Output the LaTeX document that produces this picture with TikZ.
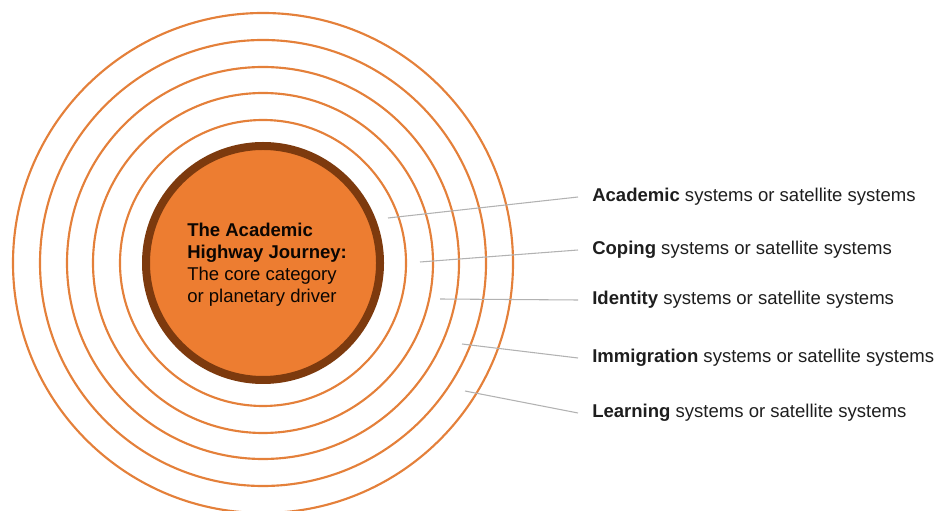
\documentclass[tikz,border=0pt]{standalone}
\usepackage{fontspec}
\setmainfont{Liberation Sans}
\usetikzlibrary{positioning}

\definecolor{ringorange}{RGB}{228,128,58}
\definecolor{coreorange}{RGB}{237,125,49}
\definecolor{corebrown}{RGB}{125,58,14}
\definecolor{leadgray}{RGB}{178,178,178}
\definecolor{labelink}{RGB}{30,30,30}

\begin{document}
\begin{tikzpicture}[x=0.75pt,y=0.75pt,
                    ring/.style={draw=ringorange,line width=1.6pt},
                    lead/.style={draw=leadgray,line width=0.8pt},
                    every node/.style={font=\fontsize{13.9}{16.5}\selectfont},
                    sysname/.style={anchor=west,inner xsep=10.5pt,text=labelink}]

  \useasboundingbox (0,0) rectangle (937,510);
  \coordinate (O) at (263,247);

  \foreach \r in {143,170,196,223,250}
    \draw[ring] (O) circle (\r);

  \node[shape=circle,fill=coreorange,draw=corebrown,line width=6pt,
        minimum size=175.5pt,inner sep=0pt] (core) at (O) {};
  \node[anchor=west,align=left,inner xsep=0pt,text=black!90!corebrown] (title) at (187,245)
        {\textbf{The Academic}\\\textbf{Highway Journey:}\\The core category\\or planetary driver};

  \node[sysname] (academic) at (578,313) {\textbf{Academic} systems or satellite systems};
  \node[sysname] (coping) at (578,260) {\textbf{Coping} systems or satellite systems};
  \node[sysname] (identity) at (578,210) {\textbf{Identity} systems or satellite systems};
  \node[sysname] (immigration) at (578,152) {\textbf{Immigration} systems or satellite systems};
  \node[sysname] (learning) at (578,97) {\textbf{Learning} systems or satellite systems};

  \coordinate (pa) at (388,292);
  \coordinate (pc) at (420,248);
  \coordinate (pi) at (440,211);
  \coordinate (pm) at (462,166);
  \coordinate (pl) at (465,119);

  \path[lead] (pa) edge (academic.west)
              (pc) edge (coping.west)
              (pi) edge (identity.west)
              (pm) edge (immigration.west)
              (pl) edge (learning.west);
\end{tikzpicture}
\end{document}
